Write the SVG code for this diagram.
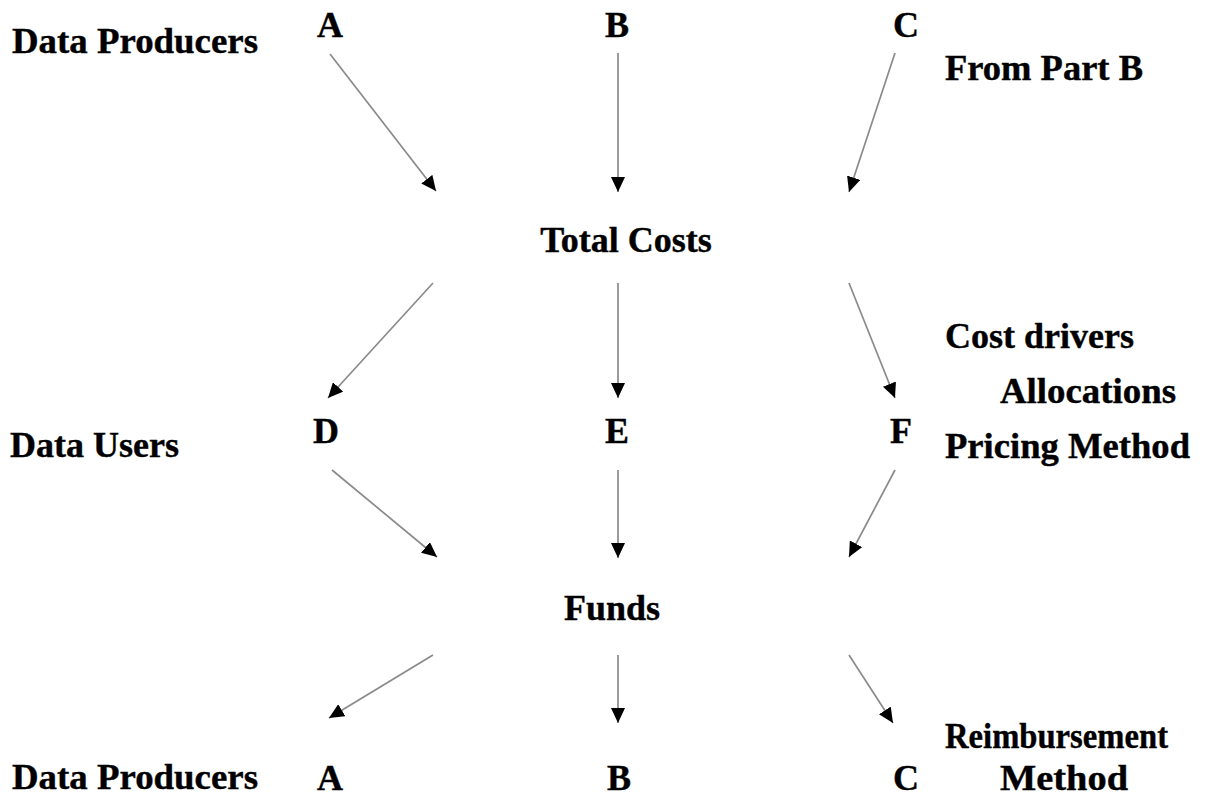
<svg xmlns="http://www.w3.org/2000/svg" width="1211" height="798" viewBox="0 0 1211 798">
<defs>
<marker id="ah" markerUnits="userSpaceOnUse" markerWidth="16" markerHeight="14" refX="15" refY="7" orient="auto">
<path d="M0,0 L15,7 L0,14 z" fill="#000"/>
</marker>
<style>
text{font-family:"Liberation Serif","Times New Roman",serif;font-weight:bold;font-size:36px;fill:#000;stroke:#000;stroke-width:0.4}
.c{text-anchor:middle}
.e line{stroke:#8a8a8a;stroke-width:1.7;marker-end:url(#ah)}
</style>
</defs>
<rect width="1211" height="798" fill="#fff"/>
<g id="labels">
<text x="12" y="53" textLength="246" lengthAdjust="spacingAndGlyphs">Data Producers</text>
<text x="945" y="80" textLength="198" lengthAdjust="spacingAndGlyphs">From Part B</text>
<text x="945" y="348">Cost drivers</text>
<text x="1000" y="403" textLength="176" lengthAdjust="spacingAndGlyphs">Allocations</text>
<text x="945" y="458" textLength="245" lengthAdjust="spacingAndGlyphs">Pricing Method</text>
<text x="10" y="457">Data Users</text>
<text x="12" y="789" textLength="246" lengthAdjust="spacingAndGlyphs">Data Producers</text>
<text x="945" y="748" textLength="223" lengthAdjust="spacingAndGlyphs">Reimbursement</text>
<text x="1000" y="790" textLength="128" lengthAdjust="spacingAndGlyphs">Method</text>
</g>
<g id="nA1"><text class="c" x="330" y="37">A</text></g>
<g id="nB1"><text class="c" x="617" y="37">B</text></g>
<g id="nC1"><text class="c" x="906" y="37">C</text></g>
<g id="nTotal"><text class="c" x="626" y="252">Total Costs</text></g>
<g id="nD"><text class="c" x="326" y="443">D</text></g>
<g id="nE"><text class="c" x="617" y="443">E</text></g>
<g id="nF"><text class="c" x="901" y="443">F</text></g>
<g id="nFunds"><text class="c" x="612" y="620">Funds</text></g>
<g id="nA2"><text class="c" x="330" y="790">A</text></g>
<g id="nB2"><text class="c" x="619" y="790">B</text></g>
<g id="nC2"><text class="c" x="906" y="790">C</text></g>
<g id="connectors" class="e">
<line x1="330" y1="54" x2="436" y2="191"/>
<line x1="618" y1="53" x2="618" y2="192"/>
<line x1="895" y1="53" x2="849" y2="192"/>
<line x1="433" y1="283" x2="328" y2="398"/>
<line x1="618" y1="283" x2="618" y2="398"/>
<line x1="849" y1="283" x2="895" y2="398"/>
<line x1="332" y1="470" x2="437" y2="557"/>
<line x1="618" y1="470" x2="618" y2="558"/>
<line x1="895" y1="470" x2="849" y2="557"/>
<line x1="433" y1="655" x2="329" y2="718"/>
<line x1="618" y1="655" x2="618" y2="723"/>
<line x1="849" y1="655" x2="893" y2="723"/>
</g>
</svg>
